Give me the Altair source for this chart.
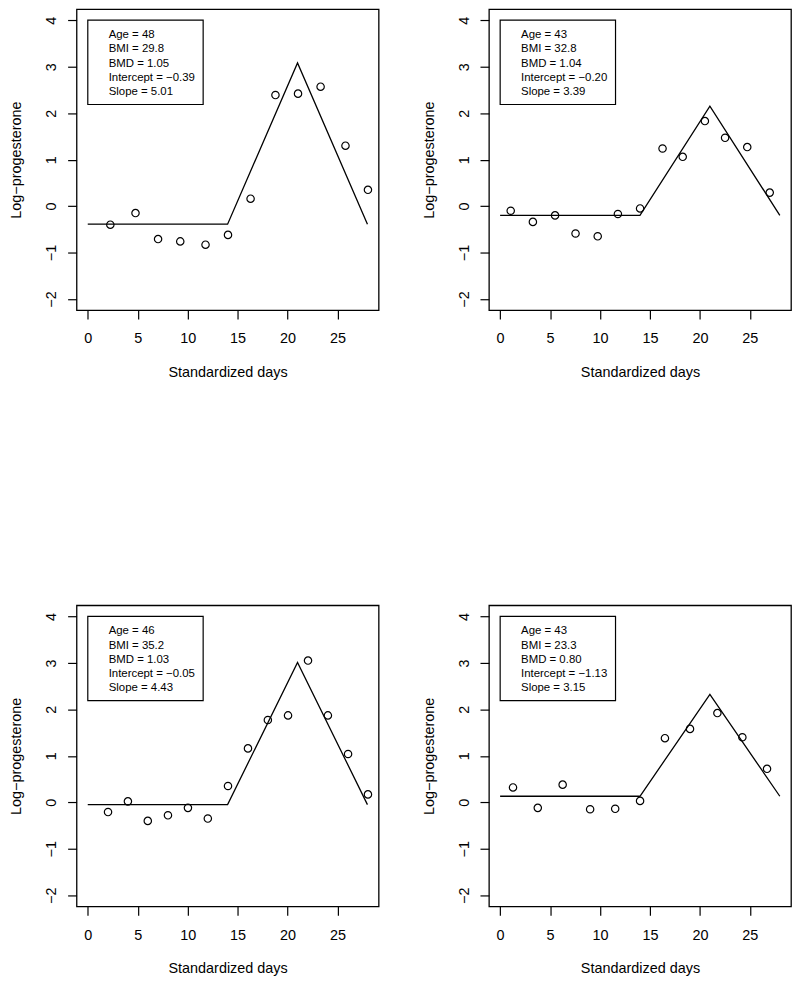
import altair as alt
import pandas as pd

# ---- data ----
days1 = [2.26, 4.78, 7.04, 9.26, 11.79, 14.04, 16.30, 18.79, 21.05, 23.31, 25.80, 28.05]
logp1 = [-0.40, -0.15, -0.71, -0.76, -0.83, -0.62, 0.16, 2.39, 2.42, 2.57, 1.30, 0.35]

days2 = [1.06, 3.28, 5.50, 7.55, 9.77, 11.79, 14.01, 16.26, 18.28, 20.50, 22.52, 24.74, 26.99]
logp2 = [-0.10, -0.34, -0.20, -0.59, -0.65, -0.17, -0.05, 1.24, 1.06, 1.83, 1.47, 1.27, 0.29]

days3 = [2.03, 4.02, 6.01, 8.03, 10.03, 12.02, 14.04, 16.04, 18.03, 20.05, 22.05, 24.04, 26.06, 28.05]
logp3 = [-0.21, 0.02, -0.40, -0.28, -0.12, -0.35, 0.35, 1.16, 1.77, 1.87, 3.05, 1.87, 1.04, 0.17]

days4 = [1.29, 3.77, 6.26, 9.01, 11.52, 14.01, 16.50, 19.01, 21.75, 24.25, 26.72]
logp4 = [0.32, -0.12, 0.38, -0.15, -0.14, 0.03, 1.38, 1.58, 1.92, 1.40, 0.72]

fit_days = [0, 14, 21, 28]
fit1 = [-0.39, -0.39, 3.08, -0.39]
fit2 = [-0.20, -0.20, 2.15, -0.20]
fit3 = [-0.05, -0.05, 3.01, -0.05]
fit4 = [0.13, 0.13, 2.32, 0.13]

info1 = ["Age = 48", "BMI = 29.8", "BMD = 1.05", "Intercept = \u22120.39", "Slope = 5.01"]
info2 = ["Age = 43", "BMI = 32.8", "BMD = 1.04", "Intercept = \u22120.20", "Slope = 3.39"]
info3 = ["Age = 46", "BMI = 35.2", "BMD = 1.03", "Intercept = \u22120.05", "Slope = 4.43"]
info4 = ["Age = 43", "BMI = 23.3", "BMD = 0.80", "Intercept = \u22121.13", "Slope = 3.15"]

x_ticks = [0, 5, 10, 15, 20, 25]
y_ticks = [-2, -1, 0, 1, 2, 3, 4]
x_title = "Standardized days"
y_title = "Log\u2212progesterone"

W, H = 304, 303
FONT = "Liberation Sans"


def panel(days, vals, fit, info):
    xs = alt.Scale(domain=[-1.12, 29.12], nice=False, zero=False)
    ys = alt.Scale(domain=[-2.24, 4.24], nice=False, zero=False)
    xax = alt.Axis(values=x_ticks, grid=False, domain=False, tickSize=9, tickWidth=1.2,
                   tickColor="black", labelColor="black", labelFont=FONT,
                   labelFontSize=14.5, labelBaseline="alphabetic", labelPadding=24,
                   labelOverlap=False, title=x_title, titleFont=FONT,
                   titleFontSize=14.5, titleFontWeight="normal", titleColor="black",
                   titleX=W / 2, titleY=66.5, titleBaseline="alphabetic",
                   titleAlign="center")
    yax = alt.Axis(values=y_ticks, grid=False, domain=False, tickSize=9, tickWidth=1.2,
                   tickColor="black", labelColor="black", labelFont=FONT,
                   labelFontSize=14.5, labelAngle=270, labelAlign="center",
                   labelBaseline="alphabetic", labelPadding=12, labelOverlap=False,
                   title=y_title, titleFont=FONT, titleFontSize=14.5,
                   titleFontWeight="normal", titleColor="black", titleAngle=270,
                   titleX=-56, titleY=H / 2, titleBaseline="alphabetic",
                   titleAlign="center")
    pts = pd.DataFrame({"day": days, "val": vals})
    fdf = pd.DataFrame({"day": fit_days, "val": fit})
    points = alt.Chart(pts).mark_point(shape="circle", filled=False, color="black",
                                       size=55, strokeWidth=1.2, opacity=1).encode(
        x=alt.X("day:Q", scale=xs, axis=xax),
        y=alt.Y("val:Q", scale=ys, axis=yax),
    )
    line = alt.Chart(fdf).mark_line(color="black", strokeWidth=1.3).encode(
        x=alt.X("day:Q", scale=xs),
        y=alt.Y("val:Q", scale=ys),
    )
    one = pd.DataFrame({"lines": [info]})
    box = alt.Chart(one).mark_rect(filled=False, stroke="black", strokeWidth=1.2).encode(
        x=alt.value(11.3), x2=alt.value(127.4), y=alt.value(11.2), y2=alt.value(96)
    )
    txt = alt.Chart(one).mark_text(align="left", baseline="alphabetic", font=FONT,
                                   fontSize=11.5, lineHeight=14.25, color="black").encode(
        x=alt.value(32.3), y=alt.value(29.3), text="lines:N"
    )
    return alt.layer(line, points, box, txt).properties(width=W, height=H)


row1 = alt.hconcat(panel(days1, logp1, fit1, info1), panel(days2, logp2, fit2, info2), spacing=41)
row2 = alt.hconcat(panel(days3, logp3, fit3, info3), panel(days4, logp4, fit4, info4), spacing=41)
chart = alt.vconcat(row1, row2, spacing=226).configure_view(
    stroke="black", strokeWidth=1.3
).properties(padding={"left": 0, "top": -3, "right": 0, "bottom": 0}, background="white")

chart.save("out.html", embed_options={"renderer": "svg", "actions": False})
